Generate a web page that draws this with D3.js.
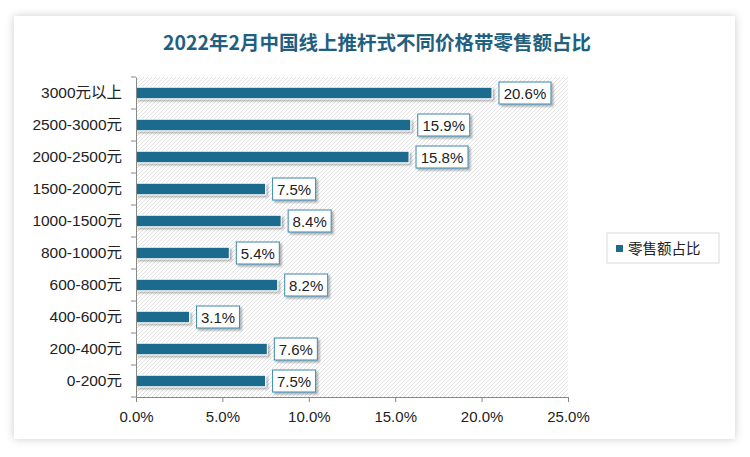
<!DOCTYPE html>
<html>
<head>
<meta charset="utf-8">
<script src="https://cdn.jsdelivr.net/npm/d3@7"></script>
<style>
  body { margin: 0; background: #fff; }
  text { font-family: "Liberation Sans", "Noto Sans CJK SC", sans-serif; }
</style>
</head>
<body>
<div id="chart"></div>
<script>
    // data
    var categories = ["3000元以上", "2500-3000元", "2000-2500元", "1500-2000元", "1000-1500元",
        "800-1000元", "600-800元", "400-600元", "200-400元", "0-200元"];
    var values = [20.6, 15.9, 15.8, 7.5, 8.4, 5.4, 8.2, 3.1, 7.6, 7.5];
    var xTicks = [0, 5, 10, 15, 20, 25];
    var seriesName = "零售额占比";
    var title = "2022年2月中国线上推杆式不同价格带零售额占比";

    var W = 750, H = 457;
    var margin = { top: 77, right: 182, bottom: 60, left: 136 },
        width = W - margin.left - margin.right,
        height = H - margin.top - margin.bottom;

    var svg = d3.select("#chart").append("svg")
        .attr("width", W)
        .attr("height", H);

    var defs = svg.append("defs");
    var sh = defs.append("filter").attr("id", "cardShadow")
        .attr("x", "-5%").attr("y", "-5%").attr("width", "110%").attr("height", "110%");
    sh.append("feDropShadow").attr("dx", 0).attr("dy", 0).attr("stdDeviation", 4)
        .attr("flood-color", "#000").attr("flood-opacity", 0.2);
    var sh2 = defs.append("filter").attr("id", "smallShadow")
        .attr("x", "-20%").attr("y", "-30%").attr("width", "150%").attr("height", "180%");
    sh2.append("feDropShadow").attr("dx", 2).attr("dy", 2).attr("stdDeviation", 1.2)
        .attr("flood-color", "#000").attr("flood-opacity", 0.3);

    var pat = defs.append("pattern").attr("id", "hatch")
        .attr("patternUnits", "userSpaceOnUse")
        .attr("width", 4).attr("height", 4);
    pat.append("rect").attr("width", 4).attr("height", 4).attr("fill", "#fff");
    pat.append("path").attr("d", "M-1,1 l2,-2 M0,4 l4,-4 M3,5 l2,-2")
        .attr("stroke", "#e0e0e0").attr("stroke-width", 1);

    // card
    svg.append("rect")
        .attr("x", 14).attr("y", 16)
        .attr("width", 721).attr("height", 423)
        .attr("fill", "#fff")
        .attr("filter", "url(#cardShadow)");

    svg.append("text")
        .attr("x", 377).attr("y", 50)
        .attr("text-anchor", "middle")
        .style("font-family", "'Noto Sans CJK SC', sans-serif")
        .style("font-size", "19.5px")
        .style("font-weight", "bold")
        .attr("fill", "#1f6080")
        .text(title);

    var g = svg.append("g")
        .attr("transform", "translate(" + margin.left + "," + margin.top + ")");

    var x = d3.scaleLinear().domain([0, 25]).range([0, width]);
    var y = d3.scaleBand().domain(categories).range([0, height]).paddingInner(0.64).paddingOuter(0.32);

    g.append("rect")
        .attr("width", width).attr("height", height)
        .attr("fill", "url(#hatch)");

    // bars
    g.selectAll(".bar")
        .data(values)
        .enter().append("rect")
        .attr("class", "bar")
        .attr("x", 0)
        .attr("y", function(d, i) { return y(categories[i]); })
        .attr("width", function(d) { return x(d); })
        .attr("height", y.bandwidth())
        .attr("fill", "#1d6a8e")
        .attr("stroke", "#fff")
        .attr("stroke-width", 1)
        .attr("filter", "url(#smallShadow)");

    // labels
    var lab = g.selectAll(".lab")
        .data(values)
        .enter().append("g")
        .attr("class", "lab")
        .attr("transform", function(d, i) {
            return "translate(" + (x(d) + 7) + "," + (y(categories[i]) + y.bandwidth() / 2) + ")";
        });
    lab.append("rect")
        .attr("x", 0).attr("y", -11)
        .attr("width", function(d) { return d >= 10 ? 52 : 43; })
        .attr("height", 22)
        .attr("fill", "#fff")
        .attr("stroke", "#3a88ad")
        .attr("stroke-width", 1)
        .attr("filter", "url(#smallShadow)");
    lab.append("text")
        .attr("x", function(d) { return d >= 10 ? 26 : 21.5; })
        .attr("y", 5.5)
        .attr("text-anchor", "middle")
        .style("font-size", "15px")
        .attr("fill", "#222")
        .text(function(d) { return d.toFixed(1) + "%"; });

    // axes
    var xAxis = g.append("g")
        .attr("transform", "translate(0," + height + ")")
        .call(d3.axisBottom(x).tickValues(xTicks).tickSize(5)
            .tickFormat(function(d) { return d.toFixed(1) + "%"; }));
    xAxis.selectAll("text").style("font-size", "15px").attr("fill", "#222").attr("dy", "1.15em");

    var yAxis = g.append("g")
        .call(d3.axisLeft(y).tickSize(0).tickPadding(14));
    yAxis.selectAll("text").style("font-size", "15.5px").attr("fill", "#222");
    var step = height / categories.length;
    yAxis.selectAll(".sep")
        .data(d3.range(categories.length + 1))
        .enter().append("line")
        .attr("class", "sep")
        .attr("x1", -5).attr("x2", 0)
        .attr("y1", function(d) { return d * step; })
        .attr("y2", function(d) { return d * step; })
        .attr("stroke", "#888");

    svg.selectAll(".domain").attr("stroke", "#888");
    svg.selectAll(".tick line").attr("stroke", "#888");

    // legend
    var leg = svg.append("g").attr("transform", "translate(607,233)");
    leg.append("rect").attr("width", 112).attr("height", 30)
        .attr("fill", "#fff").attr("stroke", "#d9d9d9");
    leg.append("rect").attr("x", 9).attr("y", 12).attr("width", 7).attr("height", 7)
        .attr("fill", "#1d6a8e");
    leg.append("text").attr("x", 21).attr("y", 20.5)
        .style("font-size", "14.5px").attr("fill", "#222")
        .text(seriesName);
</script>
</body>
</html>
